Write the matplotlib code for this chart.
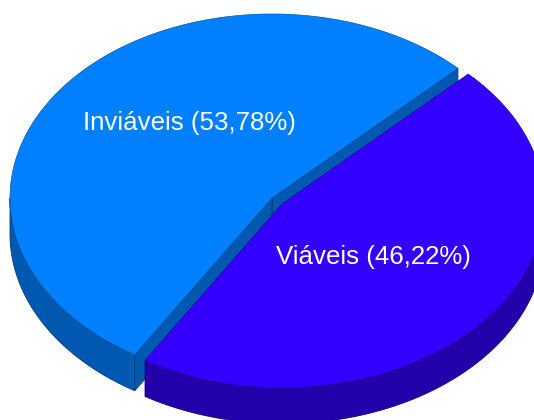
import numpy as np
import matplotlib.pyplot as plt
from matplotlib.patches import Polygon

# slice data
labels = ['Inviáveis', 'Viáveis']
shares = [53.78, 46.22]
explode = [0.0, 0.05]
top_colors = ['#0080FF', '#3300FF']
side_colors = ['#0058B0', '#2200AA']
edge_colors = ['#003A75', '#1A0080']

# pie geometry in pixel units
cx, cy = 272, 198
rx, ry = 262, 184
depth = 36
start_angle = 44.8
label_pos = [(189, 123), (373, 257)]

fig = plt.figure(figsize=(5.34, 4.2), dpi=100)
ax = fig.add_axes([0, 0, 1, 1])
ax.set_xlim(0, 534)
ax.set_ylim(420, 0)
ax.axis('off')


def arc(x0, y0, a, b, n=200):
    t = np.radians(np.linspace(a, b, n))
    return np.column_stack([x0 + rx * np.cos(t), y0 - ry * np.sin(t)])


def add(points, fc, ec, lw=0.6):
    ax.add_patch(Polygon(points, closed=True, facecolor=fc, edgecolor=ec,
                         linewidth=lw, joinstyle='round'))


angle = start_angle
for lab, share, ex, tc, sc, ec, pos in zip(labels, shares, explode, top_colors,
                                           side_colors, edge_colors, label_pos):
    a, b = angle, angle + 360 * share / 100
    angle = b
    mid = np.radians((a + b) / 2)
    x0 = cx + ex * rx * np.cos(mid)
    y0 = cy - ex * ry * np.sin(mid)

    # outer wall, only the front half (180..360 deg) faces the viewer
    for k in range(-1, 2):
        lo = max(a, 180 + 360 * k)
        hi = min(b, 360 + 360 * k)
        if hi > lo:
            top = arc(x0, y0, lo, hi)
            bot = top[::-1] + [0, depth]
            add(np.vstack([top, bot]), sc, ec)

    # radial cut faces that face the viewer
    for t, sgn in ((a, -1), (b, 1)):
        normal = np.radians(t + sgn * 90)
        if np.sin(normal) < 0:
            p = arc(x0, y0, t, t, 1)[0]
            add([(x0, y0), p, p + [0, depth], (x0, y0 + depth)], sc, ec)

    # top face
    add(np.vstack([[(x0, y0)], arc(x0, y0, a, b)]), tc, sc, lw=0.5)

    txt = f'{lab} ({share:.2f}%)'.replace('.', ',')
    ax.text(pos[0], pos[1], txt, color='white', fontsize=18.6,
            family='Liberation Sans', ha='center', va='center')

fig.savefig('out.png', dpi=100)
